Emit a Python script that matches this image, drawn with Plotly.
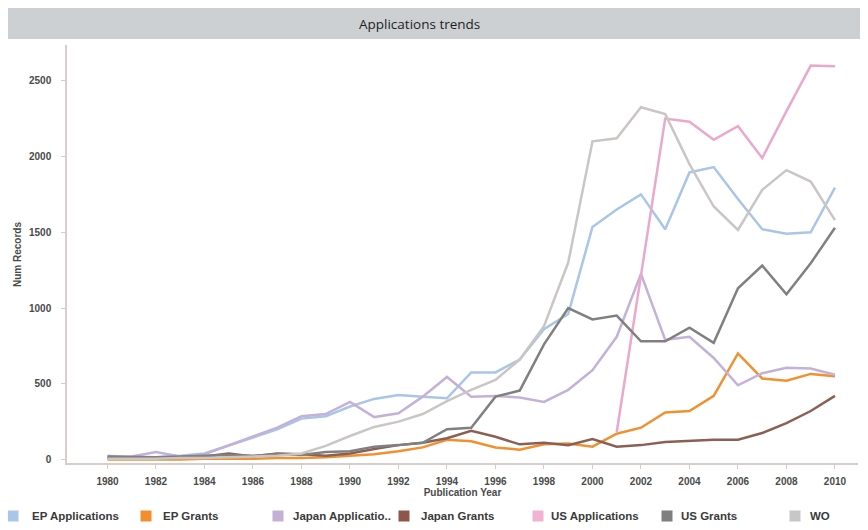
import plotly.graph_objects as go

years = list(range(1980, 2011))

ep_applications = [25, 15, 15, 25, 40, 90, 145, 200, 270, 285, 350, 400, 426, 415, 404, 575, 575, 660, 860, 960,
                   1535, 1650, 1750, 1520, 1895, 1930, 1720, 1520, 1490, 1500, 1795]
ep_grants = [0, 0, 0, 0, 5, 5, 5, 10, 10, 15, 25, 35, 55, 80, 130, 120, 80, 65, 100, 105,
             85, 170, 210, 310, 320, 420, 700, 535, 520, 565, 550]
japan_applications = [10, 20, 50, 20, 35, 95, 150, 210, 285, 300, 380, 280, 305, 415, 545, 415, 420, 410, 380, 460,
                      590, 810, 1225, 790, 810, 670, 490, 570, 605, 600, 560]
japan_grants = [10, 10, 5, 10, 20, 40, 20, 40, 35, 25, 40, 70, 95, 110, 140, 190, 150, 100, 110, 95,
                135, 85, 95, 115, 125, 130, 130, 175, 240, 320, 420]
us_applications = [None] * 21 + [180, 1220, 2250, 2230, 2110, 2200, 1990, 2300, 2600, 2595]
us_grants = [20, 15, 15, 20, 25, 30, 25, 35, 30, 50, 55, 85, 95, 110, 200, 210, 415, 455, 760, 1000,
             925, 950, 780, 780, 870, 770, 1130, 1280, 1090, 1295, 1530]
wo = [5, 5, 5, 10, 10, 15, 20, 25, 40, 90, 155, 215, 250, 300, 385, 460, 525, 660, 880, 1300,
      2100, 2120, 2325, 2280, 1950, 1670, 1515, 1780, 1910, 1835, 1580]

series_names = ["EP Applications", "EP Grants", "Japan Applicatio..", "Japan Grants",
                "US Applications", "US Grants", "WO"]
series_values = [ep_applications, ep_grants, japan_applications, japan_grants,
                 us_applications, us_grants, wo]
line_colors = ["#a9c5e8", "#f0902e", "#c4b1d8", "#8c5f55", "#eaa8cc", "#808080", "#c9c6c3"]
swatch_colors = ["#a9c6ea", "#f28e2b", "#c5b0d5", "#8c564b", "#f2b3d2", "#7f7f7f", "#c7c7c7"]

y_ticks = [0, 500, 1000, 1500, 2000, 2500]
x_ticks = list(range(1980, 2011, 2))

# legend layout (screen pixel positions of swatch centres and label starts)
legend_swatch_x = [13, 146, 278, 404, 538, 667, 795]
legend_text_x = [30, 161, 291, 419, 549, 679, 808]
legend_y = 516

fig = go.Figure()
for name, vals, col in zip(series_names, series_values, line_colors):
    fig.add_trace(go.Scatter(x=years, y=vals, mode="lines", name=name,
                             line=dict(color=col, width=2.5), showlegend=False,
                             connectgaps=False))

# page body has an 8px margin; work in screen pixels and shift into figure coords
OFF = 8
SW, SH = 868, 530
W, H = SW - OFF, SH - OFF
L, R, T, B = 67 - OFF, 858 - OFF, 45 - OFF, 463 - OFF
pw, ph = R - L, B - T

def px(x):
    return (x - OFF - L) / pw

def py(y):
    return (B - (y - OFF)) / ph

axis_font = dict(family="Liberation Sans, Arial, sans-serif", size=10, color="#4a4a4a", weight="bold")
legend_font = dict(family="Liberation Sans, Arial, sans-serif", size=11.5, color="#3a3a3a", weight="bold")

shapes = [dict(type="rect", xref="paper", yref="paper",
               x0=px(OFF), x1=px(SW), y0=py(39), y1=py(OFF),
               fillcolor="#cdd0d3", line=dict(width=0), layer="below")]
annotations = [
    dict(text="Applications trends", xref="paper", yref="paper", x=px(419), y=py(24),
         xanchor="center", yanchor="middle", showarrow=False,
         font=dict(family="Open Sans, sans-serif", size=13.5, color="#1e1e1e")),
    dict(text="Num Records", xref="paper", yref="paper", x=px(17), y=py(255),
         xanchor="center", yanchor="middle", showarrow=False, textangle=-90,
         font=axis_font),
]
half = 5.5
for name, col, sx, tx in zip(series_names, swatch_colors, legend_swatch_x, legend_text_x):
    shapes.append(dict(type="rect", xref="paper", yref="paper",
                       x0=px(sx - half), x1=px(sx + half),
                       y0=py(legend_y + half), y1=py(legend_y - half),
                       fillcolor=col, line=dict(width=0)))
    annotations.append(dict(text=name, xref="paper", yref="paper", x=px(tx), y=py(legend_y),
                            xanchor="left", yanchor="middle", showarrow=False,
                            font=legend_font))

fig.update_layout(
    width=W, height=H,
    margin=dict(l=L, r=W - R, t=T, b=H - B, autoexpand=False),
    paper_bgcolor="white", plot_bgcolor="white",
    showlegend=False,
    xaxis=dict(range=[1978.33, 2010.95], tickvals=x_ticks, showgrid=False, zeroline=False,
               showline=True, linecolor="#d9cccc", linewidth=1.5,
               ticks="outside", ticklen=4, tickcolor="#d9cccc",
               tickfont=axis_font, ticklabelstandoff=4, automargin=False,
               title=dict(text="Publication Year", font=axis_font, standoff=2)),
    yaxis=dict(range=[-23, 2736], tickvals=y_ticks, showgrid=False, zeroline=False,
               showline=True, linecolor="#d9cccc", linewidth=1.5,
               ticks="outside", ticklen=4, tickcolor="#d9cccc",
               tickfont=axis_font, ticklabelstandoff=8, automargin=False),
    shapes=shapes,
    annotations=annotations,
)

fig.write_html("out.html")
